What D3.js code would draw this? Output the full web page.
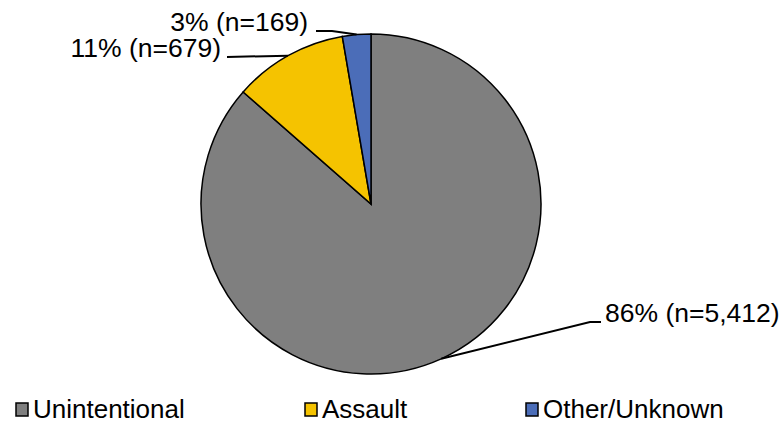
<!DOCTYPE html>
<html>
<head>
<meta charset="utf-8">
<script src="https://cdn.jsdelivr.net/npm/d3@7"></script>
<style>
body { margin: 0; background: #fff; }
text { font-family: "Liberation Sans", Arial, sans-serif; fill: #000; }
</style>
</head>
<body>
<script>
var categories = ["Unintentional", "Assault", "Other/Unknown"];
var counts = [5412, 679, 169];
var labels = ["86% (n=5,412)", "11% (n=679)", "3% (n=169)"];
var colors = ["#7f7f7f", "#f5c300", "#4b6db8"];

var width = 781, height = 425;
var cx = 371, cy = 204, r = 170;

var svg = d3.select("body").append("svg")
	.attr("width", width).attr("height", height);

var pie = d3.pie().sort(null).value(function(d){ return d; });
var arcs = pie(counts);
var arc = d3.arc().innerRadius(0).outerRadius(r);

var g = svg.append("g").attr("transform", "translate(" + cx + "," + cy + ")");

g.selectAll("path")
	.data(arcs)
	.enter().append("path")
	.attr("d", arc)
	.attr("fill", function(d, i){ return colors[i]; })
	.attr("stroke", "#000")
	.attr("stroke-width", 1.5);

// label positions (text anchor point, elbow) on the page
var labelPos = [
	{tx: 605, ty: 322, anchor: "start", ex: 590},
	{tx: 221, ty: 57, anchor: "end", ex: 227},
	{tx: 308, ty: 31, anchor: "end", ex: 316}
];

arcs.forEach(function(d, i){
	var mid = (d.startAngle + d.endAngle) / 2;
	var px = cx + r * Math.sin(mid), py = cy - r * Math.cos(mid);
	var p = labelPos[i];
	var pts;
	if (i == 0) pts = [[px, py], [p.ex, p.ty], [p.tx - 4, p.ty]];
	else if (i == 1) pts = [[px, py], [p.ex, p.ty]];
	else pts = [[px, py], [p.ex + 16, p.ty], [p.ex, p.ty]];
	svg.append("path")
		.attr("d", d3.line()(pts))
		.attr("fill", "none")
		.attr("stroke", "#000")
		.attr("stroke-width", 2);
	svg.append("text")
		.attr("x", p.tx)
		.attr("y", p.ty)
		.attr("text-anchor", p.anchor)
		.style("font-size", "26.5px")
		.text(labels[i]);
});

// legend
var legendX = [16, 305, 526];
var leg = svg.selectAll(".leg")
	.data(categories)
	.enter().append("g")
	.attr("class", "leg")
	.attr("transform", function(d, i){ return "translate(" + legendX[i] + ",403)"; });

leg.append("rect")
	.attr("width", 12).attr("height", 13)
	.attr("fill", function(d, i){ return colors[i]; })
	.attr("stroke", "#000")
	.attr("stroke-width", 1.5);

leg.append("text")
	.attr("x", 17)
	.attr("y", 15)
	.style("font-size", "26px")
	.text(function(d){ return d; });
</script>
</body>
</html>
